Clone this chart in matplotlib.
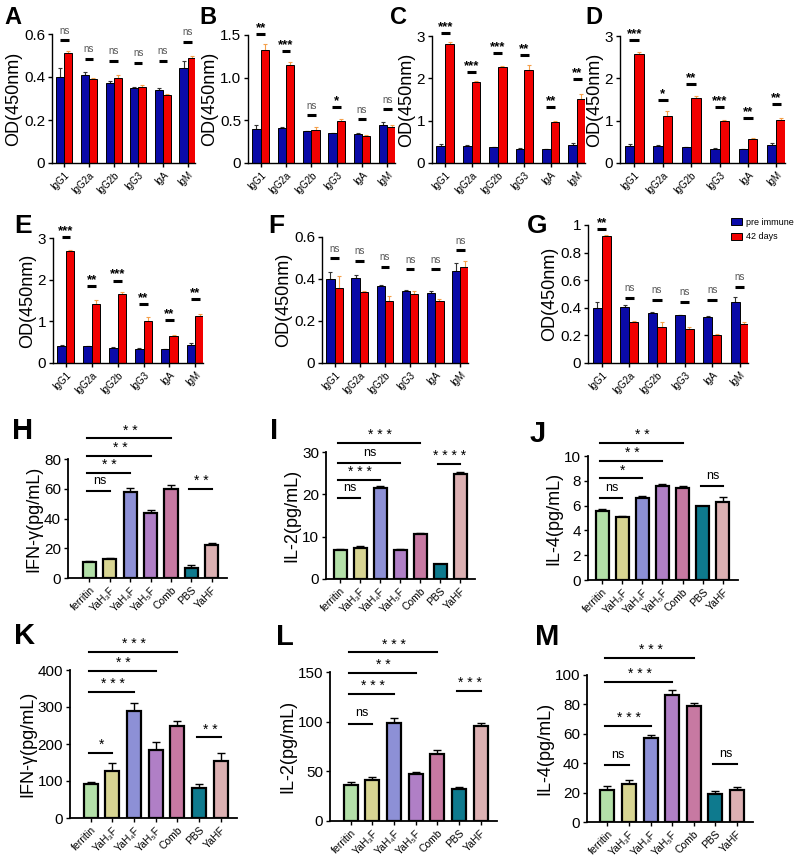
import numpy as np
import matplotlib
matplotlib.use('Agg')
import matplotlib.pyplot as plt
from matplotlib.patches import Patch

plt.rcParams['font.family'] = ['Liberation Sans', 'DejaVu Sans']

W, H = 797, 861

# ---------- antibody panels A-G ----------
ig_labels = ['IgG1', 'IgG2a', 'IgG2b', 'IgG3', 'IgA', 'IgM']

pre_A = [0.40, 0.41, 0.37, 0.35, 0.34, 0.44]
post_A = [0.51, 0.39, 0.395, 0.355, 0.315, 0.49]
pre_err_A = [0.04, 0.012, 0.01, 0.005, 0.008, 0.035]
post_err_A = [0.01, 0.005, 0.015, 0.01, 0.005, 0.008]
sig_A = ['ns', 'ns', 'ns', 'ns', 'ns', 'ns']
sigy_A = [0.57, 0.485, 0.475, 0.466, 0.475, 0.563]

pre_B = [0.40, 0.41, 0.37, 0.35, 0.34, 0.44]
post_B = [1.33, 1.15, 0.39, 0.49, 0.32, 0.42]
pre_err_B = [0.04, 0.015, 0.01, 0.005, 0.01, 0.035]
post_err_B = [0.07, 0.03, 0.03, 0.03, 0.005, 0.02]
sig_B = ['**', '***', 'ns', '*', 'ns', 'ns']
sigy_B = [1.51, 1.31, 0.56, 0.66, 0.51, 0.63]

pre_C = [0.40, 0.40, 0.37, 0.34, 0.33, 0.43]
post_C = [2.80, 1.91, 2.26, 2.19, 0.97, 1.51]
pre_err_C = [0.04, 0.02, 0.01, 0.01, 0.01, 0.04]
post_err_C = [0.05, 0.02, 0.04, 0.13, 0.03, 0.13]
sig_C = ['***', '***', '***', '**', '**', '**']
sigy_C = [3.07, 2.15, 2.6, 2.55, 1.32, 1.98]

pre_D = [0.40, 0.40, 0.37, 0.34, 0.33, 0.43]
post_D = [2.58, 1.10, 1.53, 1.00, 0.57, 1.02]
pre_err_D = [0.04, 0.02, 0.01, 0.01, 0.01, 0.04]
post_err_D = [0.05, 0.12, 0.05, 0.01, 0.03, 0.04]
sig_D = ['***', '*', '**', '***', '**', '**']
sigy_D = [2.9, 1.49, 1.87, 1.32, 1.06, 1.39]

pre_E = [0.40, 0.40, 0.37, 0.34, 0.33, 0.44]
post_E = [2.70, 1.41, 1.65, 1.02, 0.66, 1.14]
pre_err_E = [0.04, 0.02, 0.01, 0.01, 0.01, 0.04]
post_err_E = [0.02, 0.1, 0.05, 0.08, 0.02, 0.03]
sig_E = ['***', '**', '***', '**', '**', '**']
sigy_E = [3.03, 1.85, 1.98, 1.42, 1.03, 1.54]

pre_F = [0.40, 0.405, 0.365, 0.345, 0.335, 0.44]
post_F = [0.355, 0.34, 0.297, 0.33, 0.295, 0.455]
pre_err_F = [0.035, 0.012, 0.008, 0.005, 0.008, 0.035]
post_err_F = [0.06, 0.005, 0.02, 0.015, 0.008, 0.03]
sig_F = ['ns', 'ns', 'ns', 'ns', 'ns', 'ns']
sigy_F = [0.50, 0.487, 0.459, 0.448, 0.448, 0.538]

pre_G = [0.40, 0.405, 0.365, 0.345, 0.335, 0.44]
post_G = [0.92, 0.30, 0.26, 0.25, 0.205, 0.28]
pre_err_G = [0.04, 0.015, 0.008, 0.005, 0.008, 0.04]
post_err_G = [0.005, 0.005, 0.04, 0.01, 0.005, 0.02]
sig_G = ['**', 'ns', 'ns', 'ns', 'ns', 'ns']
sigy_G = [0.97, 0.47, 0.46, 0.44, 0.46, 0.55]

# ---------- cytokine panels H-M ----------
cyt_labels = ['ferritin', 'YaH\u2083F', 'YaH\u2084F', 'YaH\u2085F', 'Comb', 'PBS', 'YaHF']
cyt_colors = ['#b3e0a8', '#d8d592', '#8d90d6', '#b07fc6', '#c779a2', '#0e7a8e', '#dcb0b2']

vals_H = [11, 12.5, 58, 44, 60, 6.5, 22.5]
err_H = [0.3, 1.0, 2.5, 1.5, 2.5, 2.0, 1.0]
brk_H = [(0, 1, 'ns', 58.5), (0, 2, '**', 70.6), (0, 3, '**', 82), (0, 4, '**', 94), (5, 6, '**', 60)]

vals_I = [6.8, 7.4, 21.4, 6.8, 10.7, 3.5, 24.8]
err_I = [0.2, 0.4, 0.6, 0.2, 0.1, 0.1, 0.4]
brk_I = [(0, 1, 'ns', 19.1), (0, 2, '***', 23.4), (0, 3, 'ns', 27.5), (0, 4, '***', 32.1), (5, 6, '****', 27.2)]

vals_J = [5.55, 5.05, 6.65, 7.6, 7.45, 5.95, 6.3]
err_J = [0.2, 0.15, 0.15, 0.15, 0.12, 0.05, 0.4]
brk_J = [(0, 1, 'ns', 6.64), (0, 2, '*', 8.2), (0, 3, '**', 9.6), (0, 4, '**', 11.07), (5, 6, 'ns', 7.6)]

vals_K = [93, 128, 288, 183, 248, 80, 155]
err_K = [5, 20, 22, 22, 13, 12, 22]
brk_K = [(0, 1, '*', 177), (0, 2, '***', 341), (0, 3, '**', 397), (0, 4, '***', 449), (5, 6, '**', 218)]

vals_L = [36, 41, 99, 47, 67, 32, 96]
err_L = [3, 3, 5, 2, 4, 2, 3]
brk_L = [(0, 1, 'ns', 97.7), (0, 2, '***', 128), (0, 3, '**', 149.3), (0, 4, '***', 169.8), (5, 6, '***', 131)]

vals_M = [22, 26, 57, 86.5, 79, 19, 22]
err_M = [2.5, 2.5, 2.5, 3, 2, 2, 2]
brk_M = [(0, 1, 'ns', 38.8), (0, 2, '***', 65.3), (0, 3, '***', 95.4), (0, 4, '***', 111.8), (5, 6, 'ns', 39.3)]

fig = plt.figure(figsize=(W / 100, H / 100), dpi=100)


def add_ax(x0, y_top, x1, y_bot):
    return fig.add_axes([x0 / W, 1 - y_bot / H, (x1 - x0) / W, (y_bot - y_top) / H])


def style(ax):
    for s in ['top', 'right']:
        ax.spines[s].set_visible(False)
    for s in ['left', 'bottom']:
        ax.spines[s].set_linewidth(1.0)
    ax.tick_params(direction='out', length=3, width=1.0, pad=2)


def letter(x, y, t, size):
    fig.text(x / W, 1 - y / H, t, fontsize=size, fontweight='bold', ha='left', va='center')


def ig_panel(box, pre, post, pre_err, post_err, sig, sigy, ymax, yticks, yticklabels):
    ax = add_ax(*box)
    x = np.arange(len(ig_labels))
    w = 0.33
    ax.bar(x - w / 2, pre, w, color='#0a0aa8', edgecolor='black', linewidth=0.7, zorder=2)
    ax.bar(x + w / 2, post, w, color='#f20000', edgecolor='black', linewidth=0.7, zorder=2)
    ax.errorbar(x - w / 2, pre, yerr=[np.zeros(len(pre)), pre_err], fmt='none',
                ecolor='#333333', elinewidth=0.8, capsize=1.5, capthick=0.8, zorder=1)
    ax.errorbar(x + w / 2, post, yerr=[np.zeros(len(post)), post_err], fmt='none',
                ecolor='#f5a04a', elinewidth=0.8, capsize=1.5, capthick=0.8, zorder=1)
    for i, (s, yv) in enumerate(zip(sig, sigy)):
        ax.plot([i - 0.17, i + 0.17], [yv, yv], color='black', lw=2.2, clip_on=False,
                solid_capstyle='butt')
        if s == 'ns':
            ax.text(i, yv + ymax * 0.035, s, ha='center', va='bottom', fontsize=7,
                    color='#555555', clip_on=False)
        else:
            ax.text(i, yv, s, ha='center', va='bottom', fontsize=9.5,
                    fontweight='bold', color='black', clip_on=False)
    ax.set_xlim(-0.5, 5.3)
    ax.set_ylim(0, ymax)
    ax.set_yticks(yticks)
    ax.set_yticklabels(yticklabels, fontsize=11)
    ax.set_xticks(x)
    ax.set_xticklabels(ig_labels, rotation=45, ha='right', rotation_mode='anchor', fontsize=7)
    ax.set_ylabel('OD(450nm)', fontsize=13, labelpad=1)
    style(ax)
    return ax


def cyt_panel(box, vals, err, brk, ymax, yticks, ylabel, xl):
    ax = add_ax(*box)
    x = np.arange(len(cyt_labels))
    ax.bar(x, vals, 0.65, color=cyt_colors, edgecolor='black', linewidth=1.6, zorder=2)
    ax.errorbar(x, vals, yerr=[np.zeros(len(vals)), err], fmt='none', ecolor='black',
                elinewidth=1.0, capsize=3, capthick=1.0, zorder=1)
    for i, j, s, yv in brk:
        ax.plot([i - 0.1, j], [yv, yv], color='black', lw=1.5, clip_on=False)
        if s == 'ns':
            ax.text((i + j) / 2, yv + ymax * 0.03, s, ha='center', va='bottom',
                    fontsize=9, clip_on=False)
        else:
            ax.text((i + j) / 2, yv + ymax * 0.005, ' '.join(s), ha='center', va='bottom',
                    fontsize=10, clip_on=False)
    ax.set_xlim(xl, 6.75)
    ax.set_ylim(0, ymax)
    ax.set_yticks(yticks)
    ax.set_yticklabels([str(t) for t in yticks], fontsize=11)
    ax.set_xticks(x)
    ax.set_xticklabels(cyt_labels, rotation=45, ha='right', rotation_mode='anchor', fontsize=7.5)
    ax.set_ylabel(ylabel, fontsize=13, labelpad=1)
    style(ax)
    ax.spines['left'].set_linewidth(1.3)
    ax.spines['bottom'].set_linewidth(1.3)
    return ax


ig_panel((52, 34, 195, 163), pre_A, post_A, pre_err_A, post_err_A, sig_A, sigy_A,
         0.6, [0, 0.2, 0.4, 0.6], ['0', '0.2', '0.4', '0.6'])
ig_panel((248, 35, 395, 163), pre_B, post_B, pre_err_B, post_err_B, sig_B, sigy_B,
         1.5, [0, 0.5, 1.0, 1.5], ['0', '0.5', '1.0', '1.5'])
ig_panel((432, 36, 585, 163), pre_C, post_C, pre_err_C, post_err_C, sig_C, sigy_C,
         3, [0, 1, 2, 3], ['0', '1', '2', '3'])
ig_panel((620, 36, 785, 163), pre_D, post_D, pre_err_D, post_err_D, sig_D, sigy_D,
         3, [0, 1, 2, 3], ['0', '1', '2', '3'])
ig_panel((53, 238, 203, 363), pre_E, post_E, pre_err_E, post_err_E, sig_E, sigy_E,
         3, [0, 1, 2, 3], ['0', '1', '2', '3'])
ig_panel((322, 237, 468, 363), pre_F, post_F, pre_err_F, post_err_F, sig_F, sigy_F,
         0.6, [0, 0.2, 0.4, 0.6], ['0', '0.2', '0.4', '0.6'])
axG = ig_panel((588, 225, 748, 363), pre_G, post_G, pre_err_G, post_err_G, sig_G, sigy_G,
               1, [0, 0.2, 0.4, 0.6, 0.8, 1], ['0', '0.2', '0.4', '0.6', '0.8', '1'])

handles = [Patch(facecolor='#0a0aa8', edgecolor='black', linewidth=0.7, label='pre immune'),
           Patch(facecolor='#f20000', edgecolor='black', linewidth=0.7, label='42 days')]
fig.legend(handles=handles, loc='upper left', bbox_to_anchor=(731 / W, 1 - 218 / H),
           frameon=False, fontsize=6.5, handlelength=1.2, handleheight=0.8,
           handletextpad=0.5, labelspacing=0.6, borderaxespad=0, borderpad=0)

cyt_panel((68, 459, 227, 578), vals_H, err_H, brk_H, 80, [0, 20, 40, 60, 80], 'IFN-\u03b3(pg/mL)', -1.05)
cyt_panel((326, 452, 475, 579), vals_I, err_I, brk_I, 30, [0, 10, 20, 30], 'IL-2(pg/mL)', -0.7)
cyt_panel((588, 456, 738, 580), vals_J, err_J, brk_J, 10, [0, 2, 4, 6, 8, 10], 'IL-4(pg/mL)', -0.7)
cyt_panel((70, 670, 237, 818), vals_K, err_K, brk_K, 400, [0, 100, 200, 300, 400], 'IFN-\u03b3(pg/mL)', -0.96)
cyt_panel((330, 672, 497, 821), vals_L, err_L, brk_L, 150, [0, 50, 100, 150], 'IL-2(pg/mL)', -0.96)
cyt_panel((587, 675, 753, 822), vals_M, err_M, brk_M, 100, [0, 20, 40, 60, 80, 100], 'IL-4(pg/mL)', -0.95)

letter(4, 18, 'A', 17)
letter(199, 18, 'B', 17)
letter(390, 18, 'C', 17)
letter(585, 18, 'D', 17)
letter(14, 226, 'E', 19)
letter(268, 226, 'F', 19)
letter(527, 226, 'G', 19)
letter(12, 431, 'H', 21)
letter(270, 431, 'I', 21)
letter(530, 434, 'J', 21)
letter(14, 636, 'K', 21)
letter(276, 637, 'L', 21)
letter(535, 637, 'M', 21)

fig.savefig('out.png', dpi=100)
